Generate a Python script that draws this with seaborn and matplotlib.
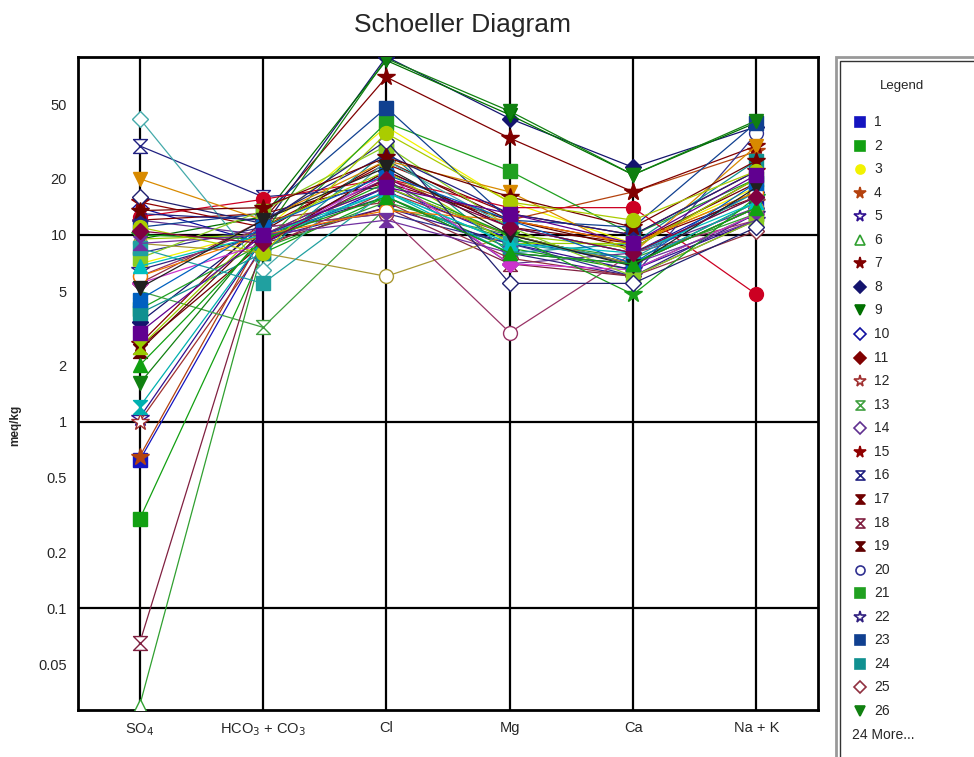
import numpy as np
import pandas as pd
import seaborn as sns
import matplotlib.pyplot as plt
from matplotlib.path import Path
from matplotlib.lines import Line2D
from matplotlib.patches import Rectangle

# ions on the x axis
ions = ["SO4", "HCO3 + CO3", "Cl", "Mg", "Ca", "Na + K"]
ion_labels = [r"SO$_4$", r"HCO$_3$ + CO$_3$", "Cl", "Mg", "Ca", "Na + K"]

# meq/kg per sample, in the order of ions
s1 = [0.62, 9.0, 18, 9.5, 7.0, 14]
s2 = [0.30, 8.0, 16, 8.5, 6.5, 13]
s3 = [7.0, 10.5, 38, 15, 9.0, 18]
s4 = [0.65, 10.0, 20, 12, 17, 28]
s5 = [1.05, 9.5, 14, 9, 6.5, 12]
s6 = [0.03, 8.5, 15, 9.5, 7.5, 13]
s7 = [2.6, 12.0, 70, 33, 17, 30]
s8 = [3.4, 11.0, 90, 42, 23, 38]
s9 = [9.5, 12.5, 86, 44, 21, 40]
s10 = [14, 9.0, 22, 11, 8, 17]
s11 = [12, 13, 19, 12, 9, 16]
s12 = [1.0, 8.5, 17, 10, 7, 15]
s13 = [5.0, 3.2, 14, 10, 7, 15]
s14 = [12, 10, 20, 7, 8, 14]
s15 = [15, 11, 24, 13, 10, 22]
s16 = [30, 16, 18, 10, 7, 14]
s17 = [2.5, 9.0, 22, 11, 9, 19]
s18 = [0.065, 9.0, 14, 7, 6, 12]
s19 = [2.4, 10.5, 25, 12, 8.5, 20]
s20 = [8, 11, 13, 9, 6, 35]
s21 = [4.0, 9.0, 40, 22, 10, 20]
s22 = [6.5, 10, 16, 8, 6, 13]
s23 = [11, 13, 48, 12, 11, 40]
s24 = [3.8, 8.0, 28, 8, 9, 25]
s25 = [5.5, 12, 15, 7.5, 6, 10.5]
s26 = [1.6, 10, 88, 46, 21, 41]
s27 = [12.5, 15.5, 20, 14, 14, 4.8]
s28 = [20, 12, 25, 17, 8, 30]
s29 = [9.5, 10, 18, 10, 8.5, 20]
s30 = [42, 6.5, 25, 11, 8, 16]
s31 = [9, 8, 6, 10, 7, 14]
s32 = [6, 11, 13, 3, 8, 12]
s33 = [2.5, 11, 22, 9, 9, 17]
s34 = [1.2, 9.5, 17, 8, 7, 15]
s35 = [5.5, 9, 21, 7, 6.5, 13]
s36 = [7.5, 13.5, 30, 11, 6, 12]
s37 = [13, 12, 27, 13, 10, 22]
s38 = [10, 9.5, 19, 10, 4.8, 16]
s39 = [8.5, 5.5, 17, 9, 7.5, 17]
s40 = [6, 10, 13.5, 12, 9, 17]
s41 = [9, 10, 12, 8, 7, 12]
s42 = [16, 11.5, 32, 5.5, 5.5, 11]
s43 = [13.5, 14, 26, 16, 11, 25]
s44 = [11, 8, 35, 15, 12, 22]
s45 = [4.5, 11, 21, 12, 7, 19]
s46 = [6.8, 10, 17, 9, 8, 15]
s47 = [5.2, 12, 23, 10, 6.8, 18]
s48 = [2.0, 9.5, 16, 8, 7, 14]
s49 = [10.5, 9, 20, 11, 8, 16]
s50 = [3.0, 10, 18, 13, 9, 21]

samples = [s1, s2, s3, s4, s5, s6, s7, s8, s9, s10, s11, s12, s13, s14, s15, s16, s17,
           s18, s19, s20, s21, s22, s23, s24, s25, s26, s27, s28, s29, s30, s31, s32, s33,
           s34, s35, s36, s37, s38, s39, s40, s41, s42, s43, s44, s45, s46, s47, s48, s49, s50]
names = [str(i + 1) for i in range(len(samples))]

# hourglass marker
hourglass = Path([(-1, 1), (1, 1), (-1, -1), (1, -1), (-1, 1)],
                 [Path.MOVETO, Path.LINETO, Path.LINETO, Path.LINETO, Path.CLOSEPOLY])

# (marker, colour, filled) per sample
styles = [
    ("s", "#1414c0", True), ("s", "#12a012", True), ("o", "#f2f200", True),
    ("*", "#b4420e", True), ("*", "#301090", False), ("^", "#30a030", False),
    ("*", "#800000", True), ("D", "#14146e", True), ("v", "#007000", True),
    ("D", "#1010a0", False), ("D", "#800000", True), ("*", "#a03030", False),
    (hourglass, "#40a040", False), ("D", "#603090", False), ("*", "#900000", True),
    (hourglass, "#202080", False), (hourglass, "#700000", True), (hourglass, "#802040", False),
    (hourglass, "#600000", True), ("o", "#303090", False), ("s", "#20a020", True),
    ("*", "#302080", False), ("s", "#104090", True), ("s", "#109090", True),
    ("D", "#903040", False), ("v", "#108010", True),
    ("o", "#cc0022", True), ("v", "#d88a00", True), ("v", "#99cc00", True),
    ("D", "#44aaaa", False), ("o", "#aa9933", False), ("o", "#993366", False),
    (hourglass, "#99cc00", True), (hourglass, "#00b0b0", True), ("D", "#cc33cc", True),
    ("s", "#88cc22", True), ("^", "#202080", True), ("*", "#18a018", True),
    ("s", "#20a0a0", True), ("o", "#ee7700", False), (hourglass, "#7030a0", True),
    ("D", "#202070", False), ("*", "#700000", True), ("o", "#aacc00", True),
    ("s", "#0060c0", True), ("^", "#00c0c0", True), ("v", "#202020", True),
    ("^", "#10a010", True), ("D", "#800040", True), ("s", "#600090", True),
]

df = pd.DataFrame({
    "ion": ions * len(samples),
    "value": np.concatenate(samples),
    "sample": np.repeat(names, len(ions)),
})

palette = {n: st[1] for n, st in zip(names, styles)}
markers = {n: st[0] for n, st in zip(names, styles)}

sns.set_style("white")
plt.rcParams["font.family"] = ["Liberation Sans", "DejaVu Sans"]

fig = plt.figure(figsize=(9.74, 7.57), dpi=100)
ax = fig.add_axes([0.080, 0.062, 0.760, 0.863])

sns.lineplot(data=df, x="ion", y="value", hue="sample", style="sample",
             hue_order=names, style_order=names, palette=palette, markers=markers,
             dashes=False, errorbar=None, sort=False, markersize=10, linewidth=0.9,
             markeredgewidth=1.0, legend=False, ax=ax, zorder=3)

for line, (m, c, filled) in zip(ax.lines, styles):
    line.set_markeredgecolor(c)
    line.set_markerfacecolor(c if filled else "white")
    if m == "D":
        line.set_markersize(8)
    if m == "*":
        line.set_markersize(13)

ax.set_yscale("log")
ax.set_ylim(0.0285, 90)
ax.set_xlim(-0.5, 5.5)

for d in [0.1, 1, 10]:
    ax.axhline(d, color="black", lw=1.6, zorder=1)
for i in range(len(ions)):
    ax.axvline(i, color="black", lw=1.6, zorder=1)

yt = [m * 10.0 ** e for e in range(-2, 2) for m in range(1, 10)]
yt = [v for v in yt if 0.0285 <= v <= 90]
labelled = {0.05: "0.05", 0.1: "0.1", 0.2: "0.2", 0.5: "0.5", 1: "1", 2: "2",
            5: "5", 10: "10", 20: "20", 50: "50"}
ylabels = [labelled.get(round(v, 3), "") for v in yt]
ax.set_yticks(yt)
ax.set_yticklabels(ylabels)
ax.minorticks_off()
ax.tick_params(axis="y", direction="in", length=13, width=2.2, labelsize=10.5, pad=8)
ax.set_xticks(range(len(ions)))
ax.set_xticklabels(ion_labels)
ax.tick_params(axis="x", length=0, labelsize=10.5, pad=8)

for sp in ax.spines.values():
    sp.set_color("black")
    sp.set_linewidth(2)

ax.set_xlabel("")
ax.set_ylabel("")
fig.text(15 / 974, 1 - 425 / 757, "meq/kg", fontsize=8.5, fontweight="bold",
         rotation=90, ha="center", va="center")
fig.text(0.475, 0.967, "Schoeller Diagram", ha="center", va="center", fontsize=19)

# legend panel
fig.add_artist(Rectangle((836 / 974, -0.01), 0.2, 1 - 57 / 757 + 0.01,
                         transform=fig.transFigure, fill=False, ec="#999999", lw=2))
fig.add_artist(Rectangle((840 / 974, -0.01), 0.2, 1 - 61 / 757 + 0.01,
                         transform=fig.transFigure, fill=False, ec="#333333", lw=1))
fig.text(880 / 974, 1 - 86 / 757, "Legend", fontsize=9.5, va="center")
for i in range(26):
    m, c, filled = styles[i]
    y = 1 - (122 + i * 23.56) / 757
    fig.add_artist(Line2D([860 / 974], [y], transform=fig.transFigure, marker=m,
                          markersize=8.5 if m == "*" else 6.5, color=c,
                          markerfacecolor=c if filled else "white", markeredgewidth=1.2))
    fig.text(874 / 974, y, names[i], fontsize=10, va="center")
fig.text(852 / 974, 1 - 735 / 757, "24 More...", fontsize=10, va="center")

fig.savefig("out.png", dpi=100)
